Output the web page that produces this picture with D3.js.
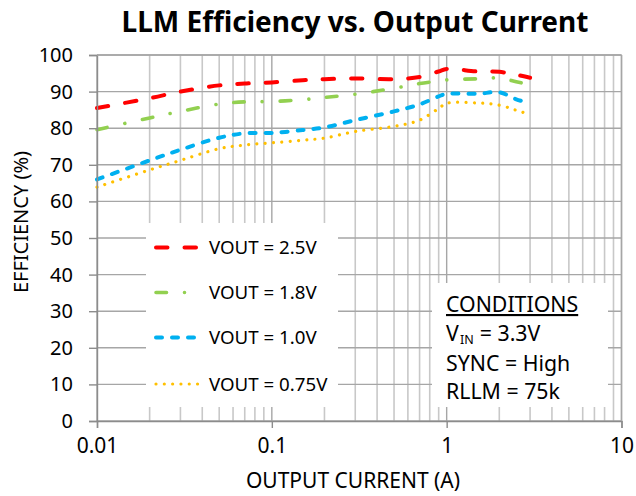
<!DOCTYPE html>
<html>
<head>
<meta charset="utf-8">
<script src="https://cdn.jsdelivr.net/npm/d3@7/dist/d3.min.js"></script>
<style>
  html, body { margin: 0; padding: 0; background: #fff; }
  svg { display: block; }
  text { font-family: 'Noto Sans', 'Open Sans', sans-serif; fill: #000; }
</style>
</head>
<body>
<div class="chart"></div>
<script>
// LLM efficiency vs output current, four VOUT curves on a log x axis.
// Values.
var currents = [0.01, 0.02, 0.03, 0.05, 0.07, 0.1, 0.15, 0.2, 0.3, 0.5, 0.7, 0.9, 1, 1.5, 2, 2.5, 3]
var eff25  = [85.5, 88.2, 90.0, 91.7, 92.2, 92.5, 93.1, 93.4, 93.6, 93.4, 94.0, 95.5, 96.2, 95.5, 95.4, 94.6, 93.8]
var eff18  = [79.6, 82.8, 84.6, 86.6, 87.2, 87.3, 87.8, 88.4, 89.3, 90.9, 92.2, 92.9, 93.2, 93.5, 93.7, 92.7, 91.8]
var eff10  = [66.0, 71.2, 74.1, 77.4, 78.6, 78.7, 79.5, 80.2, 82.2, 84.6, 86.5, 88.7, 89.4, 89.4, 89.8, 87.9, 86.8]
var eff075 = [63.9, 68.6, 71.2, 74.4, 75.4, 76.0, 76.7, 77.3, 79.1, 80.5, 82.2, 85.4, 86.8, 86.9, 86.3, 84.9, 83.7]

var seriesNames = ['VOUT = 2.5V', 'VOUT = 1.8V', 'VOUT = 1.0V', 'VOUT = 0.75V']
var xTickValues = [0.01, 0.1, 1, 10]
var yTickValues = [0, 10, 20, 30, 40, 50, 60, 70, 80, 90, 100]
var conditionLines = ['SYNC = High', 'RLLM = 75k']

// line styles, same order as seriesNames
var styles = [
  {color: '#ff0000', width: 4,   dash: '11.5,17'},
  {color: '#92d050', width: 3.6, dash: '10.5,18,0.01,18'},
  {color: '#00b0f0', width: 4,   dash: '6,10'},
  {color: '#ffc000', width: 3.2, dash: '0.01,8.3'}
]
var seriesVals = [eff25, eff18, eff10, eff075]

var W = 636, H = 496
var margin = {top: 55, right: 14.5, bottom: 75, left: 97}
var width = W - margin.left - margin.right
var height = H - margin.top - margin.bottom

var svg = d3.select('.chart').append('svg').attr('width', W).attr('height', H)
var g = svg.append('g').attr('transform', 'translate(' + margin.left + ',' + margin.top + ')')

var x = d3.scaleLog().domain([0.01, 10]).range([0, width])
var y = d3.scaleLinear().domain([0, 100]).range([height, 0])

// ---- grid: minor verticals light, decades darker, horizontals every 10 ----
var minor = []
for (var dec = 0.01; dec < 10; dec *= 10)
  for (var k = 2; k <= 9; k++) minor.push(+(dec * k).toPrecision(3))

g.selectAll('line.minor').data(minor).join('line')
  .attr('x1', x).attr('x2', x).attr('y1', 0).attr('y2', height)
  .attr('stroke', '#c8c8c8').attr('stroke-width', 1.6)
g.selectAll('line.hgrid').data(yTickValues).join('line')
  .attr('x1', 0).attr('x2', width).attr('y1', y).attr('y2', y)
  .attr('stroke', '#a6a6a6').attr('stroke-width', 1.4)
g.selectAll('line.major').data(xTickValues).join('line')
  .attr('x1', x).attr('x2', x).attr('y1', 0).attr('y2', height)
  .attr('stroke', '#a6a6a6').attr('stroke-width', 1.4)

// ---- curves ----
var line = d3.line()
  .x(function(d){ return x(d[0]) })
  .y(function(d){ return y(d[1]) })
  .curve(d3.curveCatmullRom.alpha(0.5))

seriesVals.forEach(function(vals, i){
  var s = styles[i]
  g.append('path')
    .attr('d', line(currents.map(function(c, j){ return [c, vals[j]] })))
    .attr('fill', 'none').attr('stroke', s.color).attr('stroke-width', s.width)
    .attr('stroke-dasharray', s.dash).attr('stroke-linecap', 'round')
})

// ---- legend box (white, hides grid) ----
var leg = svg.append('g')
leg.append('rect').attr('x', 146).attr('y', 223).attr('width', 192).attr('height', 184).attr('fill', '#fff')
seriesNames.forEach(function(name, i){
  var s = styles[i], ly = [247.5, 292.5, 337.5, 384][i]
  leg.append('line').attr('x1', 156).attr('x2', 201).attr('y1', ly).attr('y2', ly)
    .attr('stroke', s.color).attr('stroke-width', s.width)
    .attr('stroke-dasharray', s.dash).attr('stroke-linecap', 'round')
  leg.append('text').text(name).attr('x', 209).attr('y', ly + 6.7).attr('font-size', 18.7)
})

// ---- conditions box ----
var cond = svg.append('g')
cond.append('rect').attr('x', 432).attr('y', 283).attr('width', 176).attr('height', 124).attr('fill', '#fff')
cond.append('text').text('CONDITIONS').attr('x', 446).attr('y', 312).attr('font-size', 21.3)
  .attr('text-decoration', 'underline')
// V with subscript IN, as separate texts placed side by side
var vText = cond.append('text').text('V').attr('x', 446).attr('y', 341).attr('font-size', 21.3)
var vW = vText.node().getBBox().width
var subText = cond.append('text').text('IN').attr('x', 446 + vW + 1).attr('y', 343.5).attr('font-size', 12.5)
var subW = subText.node().getBBox().width
cond.append('text').text('= 3.3V').attr('x', 446 + vW + subW + 7).attr('y', 341).attr('font-size', 21.3)
conditionLines.forEach(function(t, i){
  cond.append('text').text(t).attr('x', 446).attr('y', 370.5 + i * 28).attr('font-size', 21.3)
})

// ---- axes ----
var xAxis = g.append('g').attr('transform', 'translate(0,' + height + ')')
  .call(d3.axisBottom(x).tickValues(xTickValues).tickSize(7).tickPadding(10)
    .tickFormat(function(d){ return d3.format('~g')(d) }))
var yAxis = g.append('g')
  .call(d3.axisLeft(y).tickValues(yTickValues).tickSize(8).tickPadding(16))
;[xAxis, yAxis].forEach(function(a){
  a.selectAll('.domain').attr('stroke', '#8c8c8c').attr('stroke-width', 1.4)
  a.selectAll('.tick line').attr('stroke', '#8c8c8c').attr('stroke-width', 1.4)
  a.selectAll('.tick text').attr('font-family', "'Noto Sans', sans-serif").attr('fill', '#000')
})
xAxis.selectAll('.tick text').attr('font-size', 21)
yAxis.selectAll('.tick text').attr('font-size', 20)
// top and right frame
g.append('line').attr('x1', 0).attr('x2', width).attr('y1', 0).attr('y2', 0).attr('stroke', '#a6a6a6').attr('stroke-width', 1.4)
g.append('line').attr('x1', width).attr('x2', width).attr('y1', 0).attr('y2', height).attr('stroke', '#a6a6a6').attr('stroke-width', 1.4)

// ---- titles ----
svg.append('text').text('LLM Efficiency vs. Output Current')
  .attr('x', 355).attr('y', 32).attr('text-anchor', 'middle')
  .attr('font-size', 28).attr('font-weight', 700)
svg.append('text').text('OUTPUT CURRENT (A)')
  .attr('x', 353).attr('y', 488).attr('text-anchor', 'middle').attr('font-size', 21)
svg.append('text').text('EFFICIENCY (%)')
  .attr('transform', 'translate(28,222) rotate(-90)').attr('text-anchor', 'middle').attr('font-size', 20)
</script>
</body>
</html>
